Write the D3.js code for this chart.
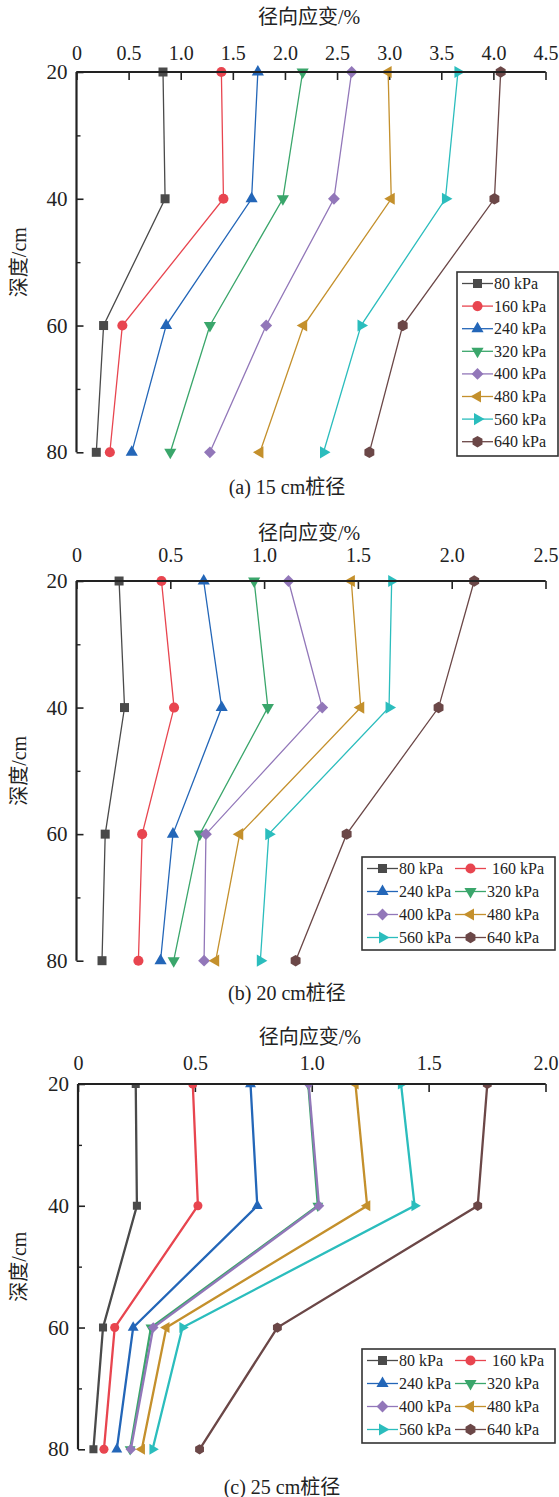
<!DOCTYPE html>
<html>
<head>
<meta charset="utf-8">
<script src="https://cdn.jsdelivr.net/npm/d3@7"></script>
<style>
  body { margin: 0; background: #fff; }
  text { font-family: "Liberation Serif", "Noto Sans CJK SC", serif; fill: #222; }
</style>
</head>
<body>
<div id="chart"></div>
<script>
// depths (cm) and load steps
var depths = [20, 40, 60, 80];
var loads = ['80 kPa', '160 kPa', '240 kPa', '320 kPa', '400 kPa', '480 kPa', '560 kPa', '640 kPa'];
var colors = ['#4a4a4a', '#e8454f', '#2366b8', '#3aa66b', '#9277b9', '#c4902c', '#2bbdbd', '#6b4747'];
var shapes = ['square', 'circle', 'up', 'down', 'diamond', 'left', 'right', 'hex'];

// radial strain (%) per load, at depths 20/40/60/80
var strain15 = [
  [0.83, 0.85, 0.26, 0.19],
  [1.39, 1.41, 0.44, 0.32],
  [1.74, 1.68, 0.86, 0.53],
  [2.17, 1.98, 1.28, 0.90],
  [2.64, 2.47, 1.82, 1.28],
  [2.99, 3.02, 2.18, 1.76],
  [3.66, 3.54, 2.73, 2.37],
  [4.07, 4.01, 3.13, 2.81]
];
var strain20 = [
  [0.227, 0.256, 0.153, 0.136],
  [0.453, 0.52, 0.35, 0.33],
  [0.678, 0.774, 0.514, 0.448],
  [0.947, 1.02, 0.657, 0.518],
  [1.13, 1.31, 0.69, 0.68],
  [1.465, 1.515, 0.87, 0.742],
  [1.68, 1.666, 1.025, 0.98],
  [2.12, 1.93, 1.44, 1.168]
];
var strain25 = [
  [0.247, 0.252, 0.107, 0.066],
  [0.491, 0.513, 0.157, 0.111],
  [0.738, 0.767, 0.236, 0.166],
  [0.985, 1.026, 0.312, 0.223],
  [0.987, 1.031, 0.322, 0.226],
  [1.187, 1.237, 0.378, 0.273],
  [1.382, 1.44, 0.447, 0.319],
  [1.751, 1.71, 0.853, 0.52]
];

var xTicks15 = [0, 0.5, 1.0, 1.5, 2.0, 2.5, 3.0, 3.5, 4.0, 4.5];
var xTicks20 = [0, 0.5, 1.0, 1.5, 2.0, 2.5];
var xTicks25 = [0, 0.5, 1.0, 1.5, 2.0];
var yTicks = [20, 40, 60, 80];
var yMinor = [30, 50, 70];

var W = 559, H = 1497;
var svg = d3.select('#chart').append('svg').attr('width', W).attr('height', H);

var hexType = {
  draw: function(ctx, size) {
    var r = Math.sqrt(size / (1.5 * Math.sqrt(3)));
    for (var i = 0; i < 6; i++) {
      var a = Math.PI / 3 * i - Math.PI / 2;
      if (i == 0) ctx.moveTo(r * Math.cos(a), r * Math.sin(a));
      else ctx.lineTo(r * Math.cos(a), r * Math.sin(a));
    }
    ctx.closePath();
  }
};

var symSize = { square: 81, circle: 80, up: 64, down: 64, left: 64, right: 64, diamond: 70, hex: 85 };

function marker(shape, k) {
  var type = d3.symbolSquare, rot = 0;
  if (shape == 'circle') type = d3.symbolCircle;
  if (shape == 'up') { type = d3.symbolTriangle; }
  if (shape == 'down') { type = d3.symbolTriangle; rot = 180; }
  if (shape == 'left') { type = d3.symbolTriangle; rot = -90; }
  if (shape == 'right') { type = d3.symbolTriangle; rot = 90; }
  if (shape == 'diamond') { type = d3.symbolSquare; rot = 45; }
  if (shape == 'hex') type = hexType;
  return { path: d3.symbol().type(type).size(symSize[shape] * k)(), rot: rot };
}

var panels = [
  { data: strain15, ticks: xTicks15, xMax: 4.5, left: 76.5, right: 545.5, top: 72, bottom: 452.3,
    titleY: 17, tickY: 53, caption: '(a) 15 cm桩径', capX: 287, capY: 487, lw: 1.3, mk: 1, clip: false,
    legend: { x: 457, y: 272, w: 101, h: 184, cols: 1 } },
  { data: strain20, ticks: xTicks20, xMax: 2.5, left: 76.5, right: 545.5, top: 581, bottom: 960.7,
    titleY: 533, tickY: 555, caption: '(b) 20 cm桩径', capX: 287, capY: 993, lw: 1.3, mk: 1, clip: false,
    legend: { x: 362, y: 857, w: 193, h: 93, cols: 2 } },
  { data: strain25, ticks: xTicks25, xMax: 2.0, left: 78, right: 545.5, top: 1084, bottom: 1449.3,
    titleY: 1037, tickY: 1063, caption: '(c) 25 cm桩径', capX: 282, capY: 1487, lw: 2.3, mk: 0.8, clip: true,
    legend: { x: 362, y: 1349, w: 193, h: 94, cols: 2 } }
];

panels.forEach(function(p, pi) {
  var x = d3.scaleLinear().domain([0, p.xMax]).range([p.left, p.right]);
  var y = d3.scaleLinear().domain([20, 80]).range([p.top, p.bottom]);
  var g = svg.append('g');

  // axis title & caption
  g.append('text').attr('x', (p.left + p.right) / 2 - 2).attr('y', p.titleY)
    .attr('text-anchor', 'middle').attr('dominant-baseline', 'central')
    .style('font-size', '20px').text('径向应变/%');
  g.append('text').attr('transform', 'translate(19,' + (p.top + p.bottom) / 2 + ') rotate(-90)')
    .attr('text-anchor', 'middle').attr('dominant-baseline', 'central')
    .style('font-size', '20px').text('深度/cm');
  g.append('text').attr('x', p.capX).attr('y', p.capY)
    .attr('text-anchor', 'middle').attr('dominant-baseline', 'central')
    .style('font-size', '20px').text(p.caption);

  // top x axis, ticks pointing into the plot
  var xAxis = d3.axisBottom(x).tickValues(p.ticks).tickSize(8)
    .tickFormat(function(d) { return d == 0 ? '0' : d3.format('.1f')(d); });
  var xa = g.append('g').attr('transform', 'translate(0,' + p.top + ')').call(xAxis);
  xa.select('.domain').attr('stroke', '#222').attr('stroke-width', 2.2)
    .attr('d', 'M' + p.left + ',0H' + p.right);
  xa.selectAll('.tick line').attr('stroke', '#222').attr('stroke-width', 1.6);
  xa.selectAll('.tick text').attr('y', p.tickY - p.top).attr('dy', '0.35em')
    .style('font-size', '20px').style('font-family', '"Liberation Serif", serif');

  // left y axis, ticks inward
  var yAxis = d3.axisRight(y).tickValues(yTicks).tickSize(7).tickFormat('');
  var ya = g.append('g').attr('transform', 'translate(' + p.left + ',0)').call(yAxis);
  ya.select('.domain').attr('stroke', '#222').attr('stroke-width', 2.2)
    .attr('d', 'M0,' + p.top + 'V' + p.bottom);
  ya.selectAll('.tick line').attr('stroke', '#222').attr('stroke-width', 1.6);
  var ym = d3.axisRight(y).tickValues(yMinor).tickSize(4).tickFormat('');
  var ymg = g.append('g').attr('transform', 'translate(' + p.left + ',0)').call(ym);
  ymg.select('.domain').remove();
  ymg.selectAll('.tick line').attr('stroke', '#222').attr('stroke-width', 1.4);
  g.selectAll('.ylab').data(yTicks).enter().append('text')
    .attr('x', p.left - 9).attr('y', function(d) { return y(d); })
    .attr('text-anchor', 'end').attr('dominant-baseline', 'central')
    .style('font-size', '21px').text(function(d) { return d; });

  // data
  var plot = g.append('g');
  if (p.clip) {
    var id = 'clip' + pi;
    svg.append('clipPath').attr('id', id).append('rect')
      .attr('x', p.left).attr('y', p.top + 1).attr('width', p.right - p.left + 20).attr('height', p.bottom - p.top + 30);
    plot.attr('clip-path', 'url(#' + id + ')');
  }
  var line = d3.line().x(function(d) { return x(d[1]); }).y(function(d) { return y(d[0]); });
  p.data.forEach(function(vals, si) {
    var pts = depths.map(function(dep, k) { return [dep, vals[k]]; });
    plot.append('path').attr('d', line(pts)).attr('fill', 'none')
      .attr('stroke', colors[si]).attr('stroke-width', p.lw);
    var m = marker(shapes[si], p.mk);
    plot.selectAll('.m' + si).data(pts).enter().append('path')
      .attr('d', m.path).attr('fill', colors[si])
      .attr('transform', function(d) { return 'translate(' + x(d[1]) + ',' + y(d[0]) + ') rotate(' + m.rot + ')'; });
  });
  // redraw the top axis line above the clipped markers
  g.append('path').attr('d', 'M' + p.left + ',' + p.top + 'H' + p.right)
    .attr('stroke', '#222').attr('stroke-width', 2.2);

  // legend
  var L = p.legend;
  var lg = g.append('g');
  lg.append('rect').attr('x', L.x).attr('y', L.y).attr('width', L.w).attr('height', L.h)
    .attr('fill', '#fff').attr('stroke', '#333').attr('stroke-width', 1.6);
  var rowH = L.cols == 1 ? 22.6 : 23;
  loads.forEach(function(name, si) {
    var col = L.cols == 1 ? 0 : si % 2;
    var row = L.cols == 1 ? si : Math.floor(si / 2);
    var lx = L.x + 5 + col * 88;
    var ly = L.y + 11.5 + row * rowH;
    lg.append('line').attr('x1', lx).attr('x2', lx + 31).attr('y1', ly).attr('y2', ly)
      .attr('stroke', colors[si]).attr('stroke-width', 1.3);
    var m = marker(shapes[si], 1);
    lg.append('path').attr('d', m.path).attr('fill', colors[si])
      .attr('transform', 'translate(' + (lx + 15.5) + ',' + ly + ') rotate(' + m.rot + ')');
    lg.append('text').attr('x', lx + (col == 1 && si == 1 ? 37 : 32)).attr('y', ly).attr('dominant-baseline', 'central')
      .style('font-size', '16px').text(name);
  });
});
</script>
</body>
</html>
